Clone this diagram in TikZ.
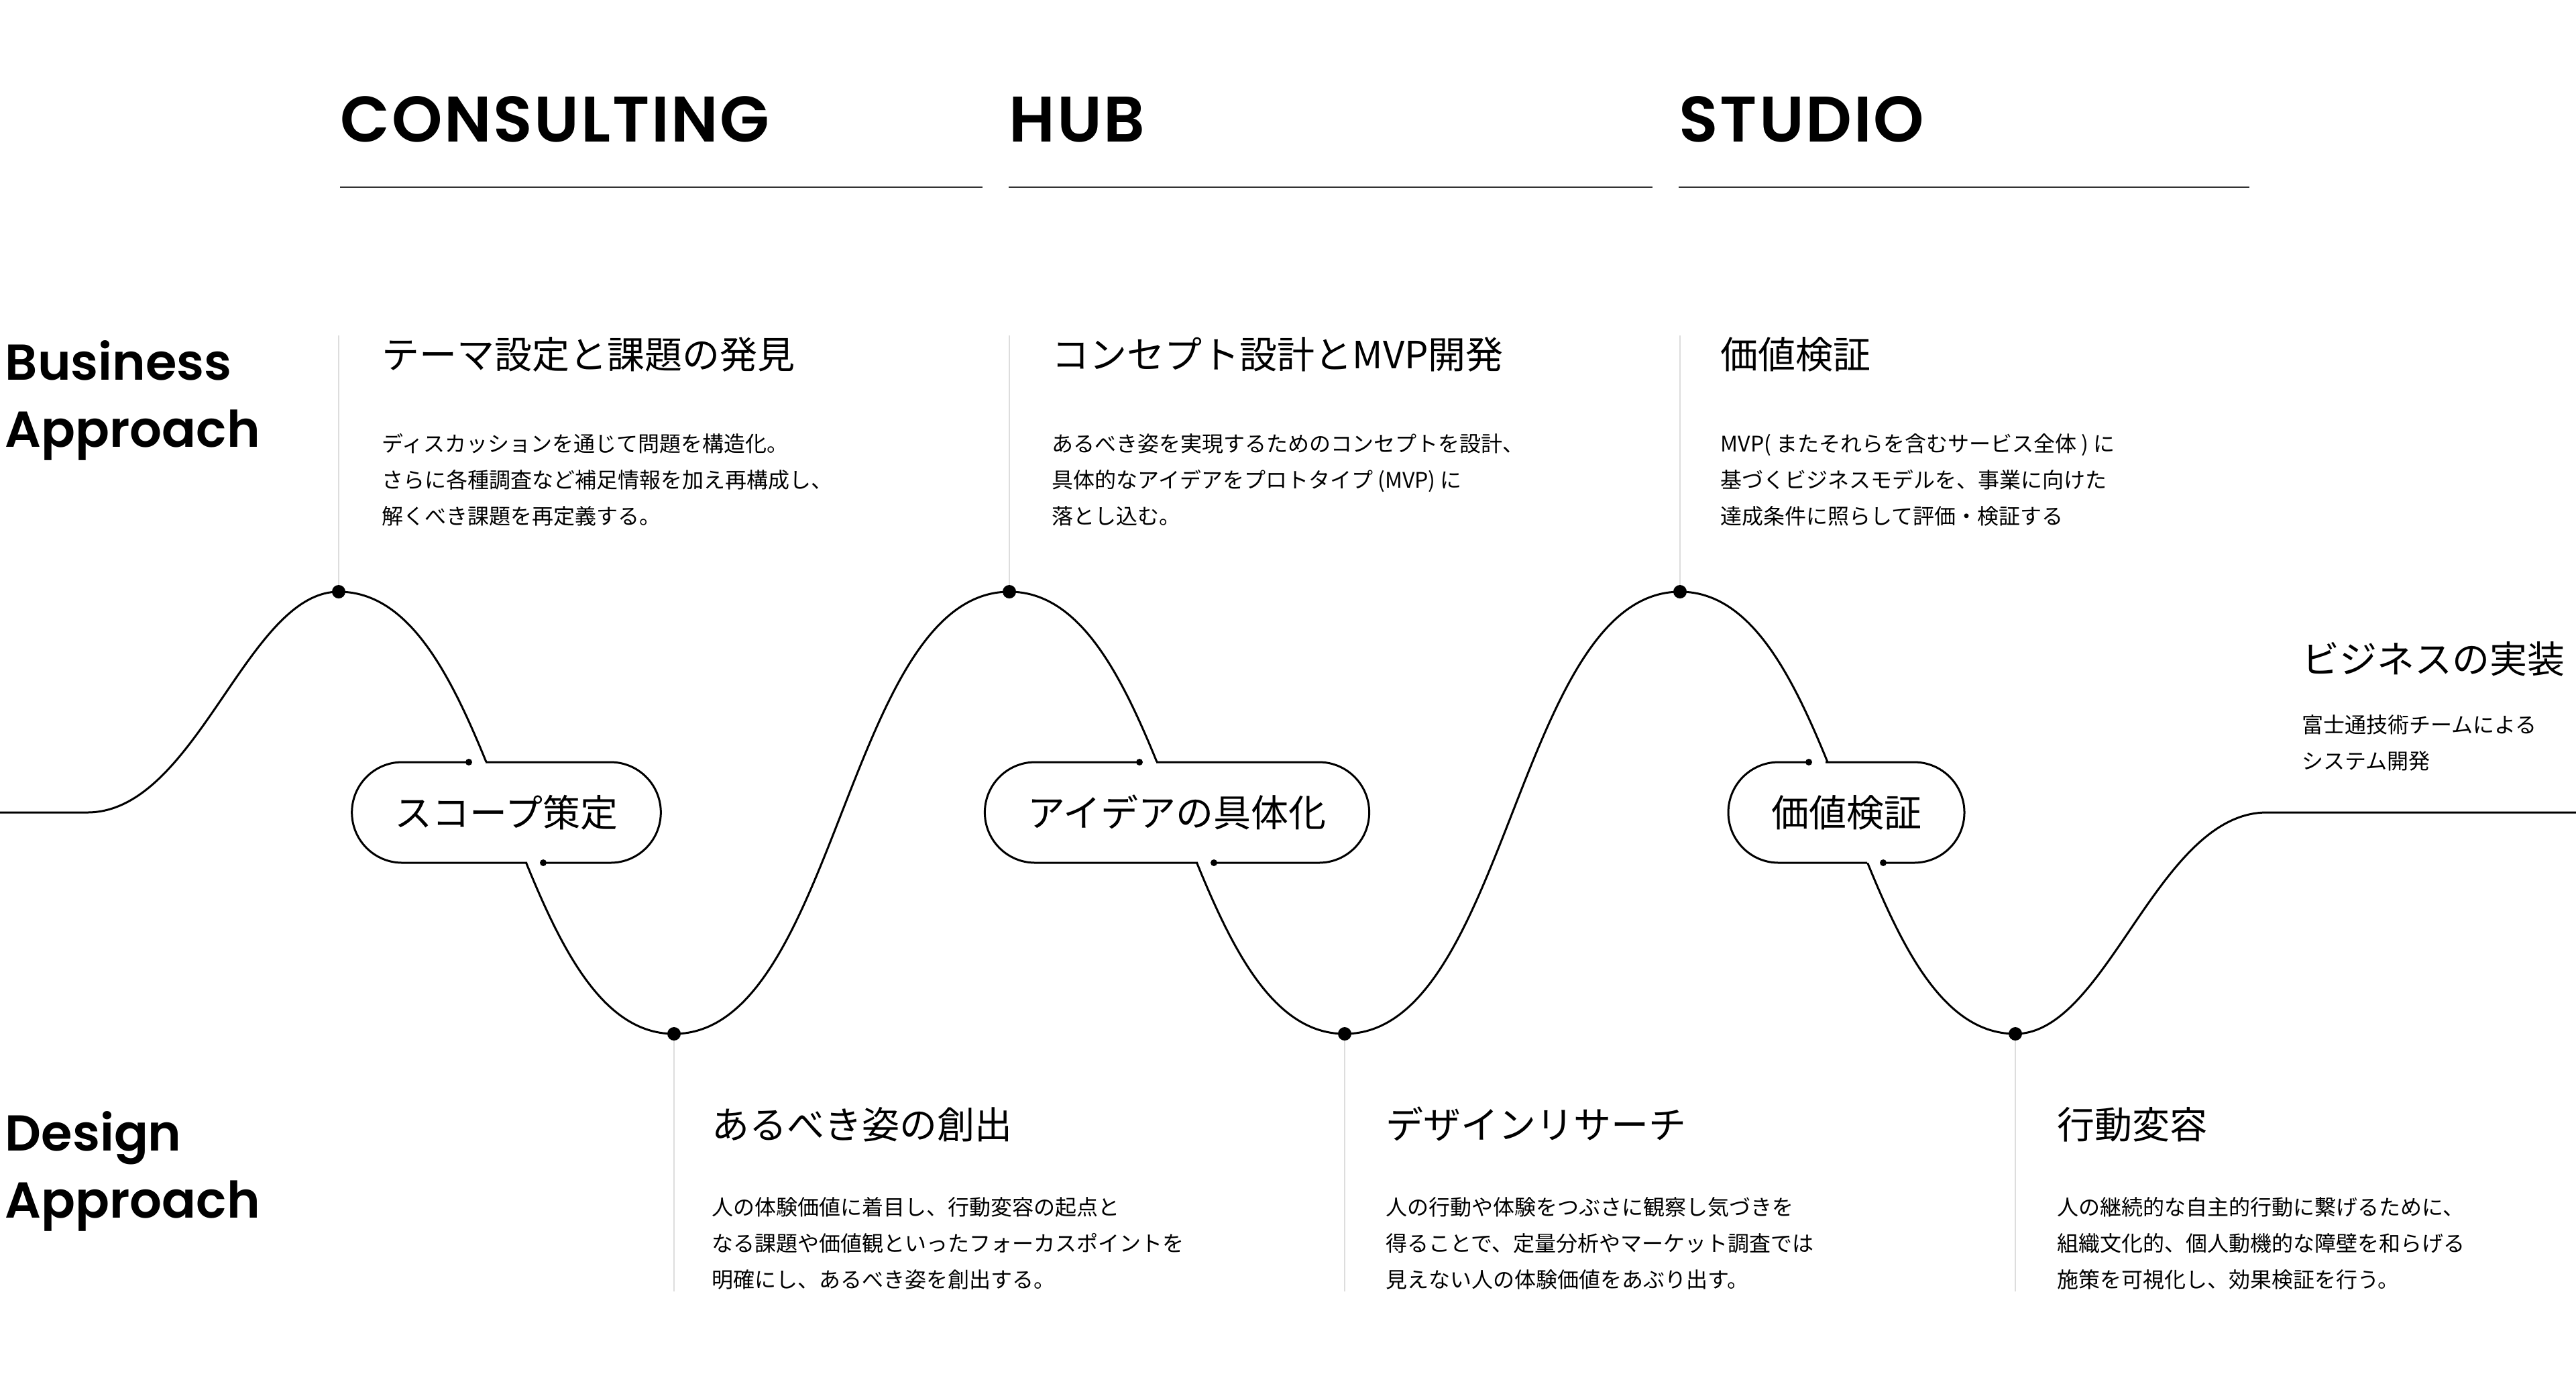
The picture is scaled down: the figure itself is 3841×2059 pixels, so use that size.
\documentclass[tikz,border=0pt]{standalone}
\usepackage{fontspec}
\setmainfont{Noto Sans CJK JP}
\newfontfamily\hdfont{Poppins SemiBold}[LetterSpace=2.8]
\newfontfamily\sdfont{Poppins SemiBold}
\usetikzlibrary{calc}
\pgfdeclarelayer{bg}
\pgfsetlayers{bg,main}
\definecolor{linegray}{HTML}{DDDDDD}
\begin{document}
\begin{tikzpicture}[x=0.25pt,y=-0.25pt,
  wave/.style={line width=0.75pt, black},
  gline/.style={line width=0.6pt, linegray},
  rule/.style={line width=0.6pt, black!80},
  bigdot/.style={circle, fill=black, inner sep=0pt, minimum size=5pt},
  smalldot/.style={circle, fill=black, inner sep=0pt, minimum size=2.5pt},
  pill/.style={fill=white, inner xsep=16pt, inner ysep=0pt, outer sep=0pt, minimum height=37.5pt, font=\fontsize{14pt}{16pt}\selectfont},
  pillline/.style={wave, rounded corners=18.75pt},
  head/.style={anchor=base west, inner sep=0pt, font=\hdfont\fontsize{24pt}{28pt}\selectfont},
  side/.style={anchor=base west, inner sep=0pt, font=\sdfont\fontsize{18.8pt}{23pt}\selectfont},
  ttl/.style={anchor=base west, inner sep=0pt, font=\fontsize{14pt}{16pt}\selectfont},
  body/.style={anchor=base west, inner sep=0pt, font=\fontsize{8pt}{10pt}\selectfont},
]
\useasboundingbox (0,0) rectangle (3841,2059);

% headings
\node[head] (hCons) at (507,211) {CONSULTING};
\node[head] (hHub) at (1504,211) {HUB};
\node[head] (hStu) at (2503,211) {STUDIO};
\coordinate (u1a) at (507,279); \coordinate (u1b) at (1465,279);
\coordinate (u2a) at (1504,279); \coordinate (u2b) at (2464,279);
\coordinate (u3a) at (2503,279); \coordinate (u3b) at (3354,279);
\draw[rule] (u1a) -- (u1b);
\draw[rule] (u2a) -- (u2b);
\draw[rule] (u3a) -- (u3b);

% side labels
\node[side] (bus1) at (7,566) {Business};
\node[side] (bus2) at (7,666) {Approach};
\node[side] (des1) at (7,1715) {Design};
\node[side] (des2) at (7,1815) {Approach};

% peaks and troughs
\node[bigdot] (pk1) at (505,882) {};
\node[bigdot] (pk2) at (1505,882) {};
\node[bigdot] (pk3) at (2505,882) {};
\node[bigdot] (tr1) at (1005,1541) {};
\node[bigdot] (tr2) at (2005,1541) {};
\node[bigdot] (tr3) at (3005,1541) {};

% pills
\node[pill] (pl1) at (755,1211) {スコープ策定};
\node[pill] (pl2) at (1755,1211) {アイデアの具体化};
\node[pill] (pl3) at (2753,1211) {価値検証};
\foreach \p in {pl1,pl2,pl3}{
  \node[smalldot] (\p dt) at ($(\p.north)+(-56,0)$) {};
  \node[smalldot] (\p db) at ($(\p.south)+(55,0)$) {};
  \coordinate (\p in) at ($(\p.north)+(-31,0)$);
  \coordinate (\p out) at ($(\p.south)+(31,0)$);
  \draw[pillline] (\p in) -- (\p.north east) -- (\p.south east) -- (\p db.center);
  \draw[pillline] (\p dt.center) -- (\p.north west) -- (\p.south west) -- (\p out);
}

% wave and guide lines
\coordinate (w0) at (0,1211);
\coordinate (w1) at (130,1211);
\coordinate (w2) at (3380,1211);
\coordinate (w3) at (3841,1211);
\coordinate (g1) at (505,500);
\coordinate (g2) at (1505,500);
\coordinate (g3) at (2505,500);
\coordinate (d1) at (1005,1925);
\coordinate (d2) at (2005,1925);
\coordinate (d3) at (3005,1925);
\begin{pgfonlayer}{bg}
\draw[gline] (g1) -- (pk1.center);
\draw[gline] (g2) -- (pk2.center);
\draw[gline] (g3) -- (pk3.center);
\draw[gline] (tr1.center) -- (d1);
\draw[gline] (tr2.center) -- (d2);
\draw[gline] (tr3.center) -- (d3);
\draw[wave] (w0) -- (w1)
  .. controls +(163,0) and +(-137,0) .. (pk1.center)
  .. controls +(242.6,0) and +(-242.6,0) .. (tr1.center)
  .. controls +(242.6,0) and +(-242.6,0) .. (pk2.center)
  .. controls +(242.6,0) and +(-242.6,0) .. (tr2.center)
  .. controls +(242.6,0) and +(-242.6,0) .. (pk3.center)
  .. controls +(242.6,0) and +(-242.6,0) .. (tr3.center)
  .. controls +(137,0) and +(-163,0) .. (w2) -- (w3);
\end{pgfonlayer}

% upper texts
\node[ttl] (t1) at (569,549) {テーマ設定と課題の発見};
\node[body] (t1a) at (569,673) {ディスカッションを通じて問題を構造化。};
\node[body] (t1b) at (569,727) {さらに各種調査など補足情報を加え再構成し、};
\node[body] (t1c) at (569,781) {解くべき課題を再定義する。};

\node[ttl] (t2) at (1568,549) {コンセプト設計とMVP開発};
\node[body] (t2a) at (1568,673) {あるべき姿を実現するためのコンセプトを設計、};
\node[body] (t2b) at (1568,727) {具体的なアイデアをプロトタイプ (MVP) に};
\node[body] (t2c) at (1568,781) {落とし込む。};

\node[ttl] (t3) at (2565,549) {価値検証};
\node[body] (t3a) at (2565,673) {MVP( またそれらを含むサービス全体 ) に};
\node[body] (t3b) at (2565,727) {基づくビジネスモデルを、事業に向けた};
\node[body] (t3c) at (2565,781) {達成条件に照らして評価・検証する};

% right text
\node[ttl] (t4) at (3432,1003) {ビジネスの実装};
\node[body] (t4a) at (3432,1092) {富士通技術チームによる};
\node[body] (t4b) at (3432,1146) {システム開発};

% lower texts
\node[ttl] (b1) at (1061,1697) {あるべき姿の創出};
\node[body] (b1a) at (1061,1811) {人の体験価値に着目し、行動変容の起点と};
\node[body] (b1b) at (1061,1865) {なる課題や価値観といったフォーカスポイントを};
\node[body] (b1c) at (1061,1919) {明確にし、あるべき姿を創出する。};

\node[ttl] (b2) at (2066,1697) {デザインリサーチ};
\node[body] (b2a) at (2066,1811) {人の行動や体験をつぶさに観察し気づきを};
\node[body] (b2b) at (2066,1865) {得ることで、定量分析やマーケット調査では};
\node[body] (b2c) at (2066,1919) {見えない人の体験価値をあぶり出す。};

\node[ttl] (b3) at (3067,1697) {行動変容};
\node[body] (b3a) at (3067,1811) {人の継続的な自主的行動に繋げるために、};
\node[body] (b3b) at (3067,1865) {組織文化的、個人動機的な障壁を和らげる};
\node[body] (b3c) at (3067,1919) {施策を可視化し、効果検証を行う。};
\end{tikzpicture}
\end{document}
